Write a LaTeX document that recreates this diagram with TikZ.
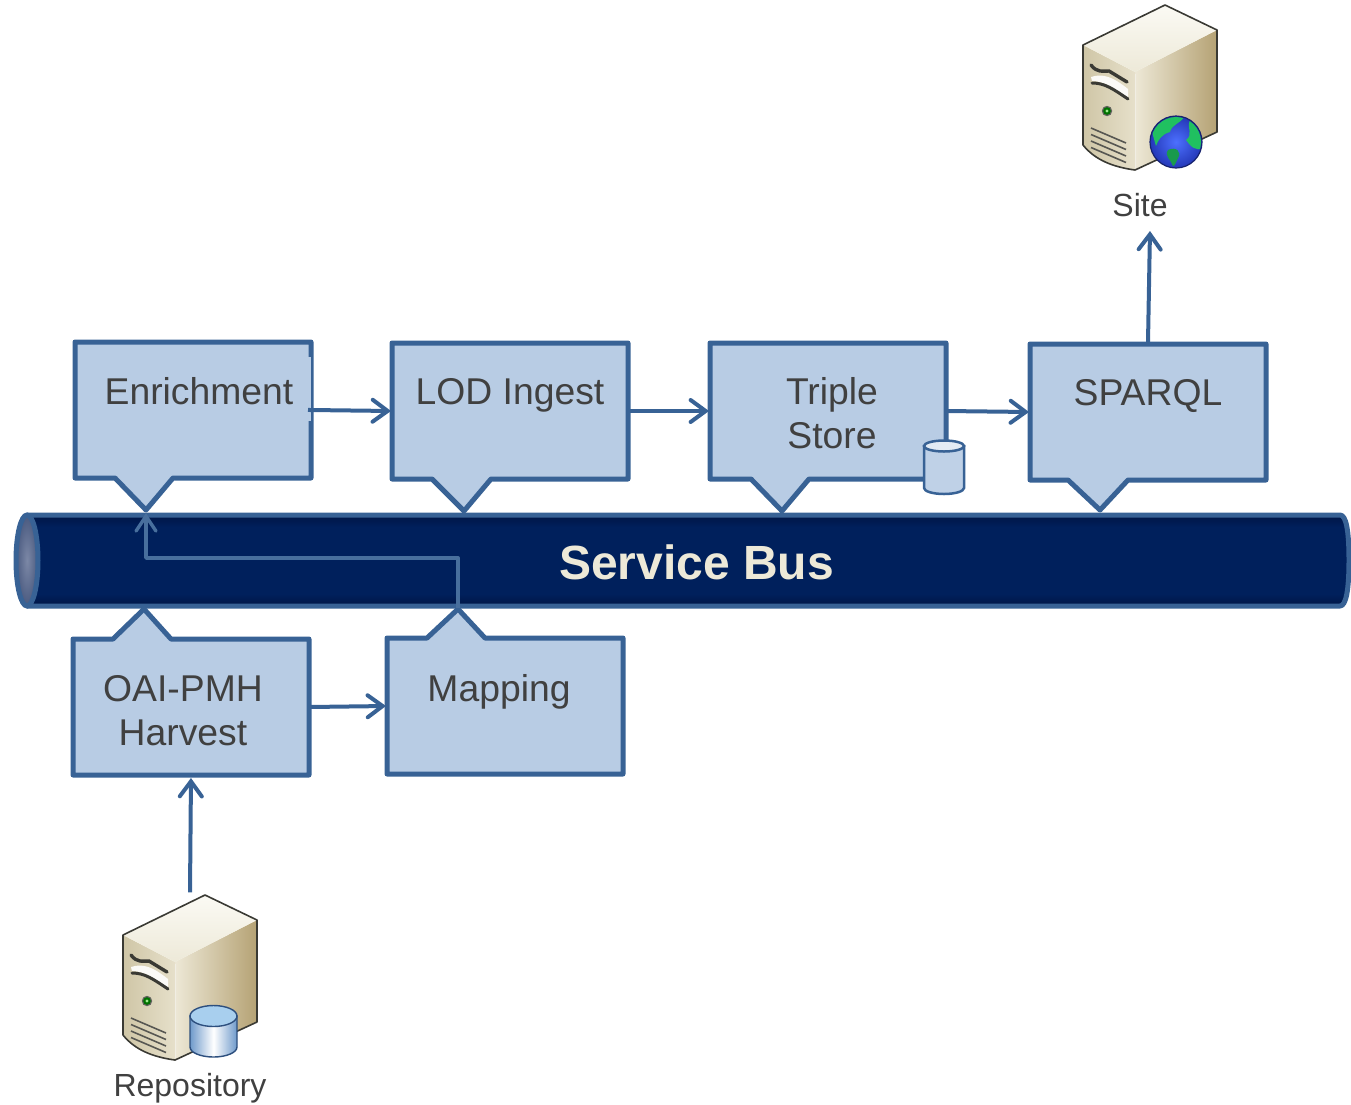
\documentclass[tikz,border=0pt]{standalone}
\usepackage{fontspec}
\setmainfont{Liberation Sans}
\usetikzlibrary{arrows.meta}
\definecolor{edgeblue}{HTML}{386295}
\definecolor{boxblue}{HTML}{B8CCE4}
\definecolor{busnavy}{HTML}{00205C}
\definecolor{busdark}{HTML}{001545}
\definecolor{textgrey}{HTML}{404040}
\definecolor{srvdark}{HTML}{3A3A34}
\definecolor{srvright0}{HTML}{EDE8D6}
\definecolor{srvright1}{HTML}{B5A274}
\definecolor{srvfront0}{HTML}{E6E0CA}
\definecolor{srvfront1}{HTML}{CFC6A6}
\definecolor{srvtop0}{HTML}{FBFAF4}
\definecolor{srvtop1}{HTML}{EDE9D8}
\definecolor{capinner}{HTML}{7C88A6}
\definecolor{capouter}{HTML}{4A5A80}
\definecolor{globeblue}{HTML}{4C70FF}
\definecolor{globedeep}{HTML}{2438B8}
\definecolor{globegreen}{HTML}{20C060}
\definecolor{cylside}{HTML}{6F9ACB}
\definecolor{cyltop}{HTML}{A8CFEE}
\definecolor{cyledge}{HTML}{2D4F7E}
\tikzset{
  x=1pt,y=-1pt,
  calloutshape/.style={draw=edgeblue,fill=boxblue,line width=5pt,line join=round},
  anchorbox/.style={inner sep=0pt,outer sep=0pt,minimum width=236pt,minimum height=136pt},
  boxlabel/.style={text=textgrey,font=\fontsize{37.3}{44}\selectfont,align=center,inner sep=0pt},
  smalllabel/.style={text=textgrey,font=\fontsize{32}{38}\selectfont,inner sep=0pt},
  flow/.style={draw=edgeblue,line width=4pt,shorten >=1pt,-{Straight Barb[length=15pt,width=22pt,line cap=round]}},
  thinflow/.style={draw=edgeblue!92!white,line width=3.4pt,line join=round,-{Straight Barb[length=15pt,width=20pt,line cap=round]}},
}
\newcommand{\calloutdown}[7]{%
  \draw[calloutshape] (#2,#3) -- (#2+236,#3) -- (#2+236,#3+136) -- (#6,#3+136) -- (#5,#7) -- (#4,#3+136) -- (#2,#3+136) -- cycle;
  \node[anchorbox] (#1) at (#2+118,#3+68) {};
}
\newcommand{\calloutup}[7]{%
  \draw[calloutshape] (#2,#3) -- (#4,#3) -- (#5,#7) -- (#6,#3) -- (#2+236,#3) -- (#2+236,#3+136) -- (#2,#3+136) -- cycle;
  \node[anchorbox] (#1) at (#2+118,#3+68) {};
}
\newcommand{\serverat}[2]{%
  \begin{scope}[shift={(#1,#2)}]
    \shade[left color=srvright0,right color=srvright1] (52,67) -- (134,25) -- (134,127) -- (52,165) -- cycle;
    \shade[left color=srvfront1,right color=srvfront0] (0,40) -- (52,67) -- (52,165) .. controls (30,162) and (12,155) .. (0,140) -- cycle;
    \shade[top color=srvtop0,bottom color=srvtop1] (82,0) -- (134,25) -- (52,67) -- (0,40) -- cycle;
    \draw[srvdark,line width=1.6pt,line join=round] (0,40) -- (82,0) -- (134,25) -- (134,127) -- (52,165) .. controls (30,162) and (12,155) .. (0,140) -- cycle;
    \draw[white!70!srvfront1,line width=1pt] (52,69) -- (52,163);
    \fill[white!85!srvfront0] (8,72) .. controls (20,68) and (30,72) .. (45,84) -- (45,93) .. controls (30,82) and (20,76) .. (9,76) -- cycle;
    \draw[srvdark,line width=3.4pt,line cap=round] (8,60) .. controls (14,68) and (20,66) .. (26,66) -- (44,77);
    \draw[srvdark,line width=3pt,line cap=round] (9,78) .. controls (22,78) and (30,84) .. (45,94);
    \fill[srvdark!80] (24,106) circle (5.2);
    \fill[green!45!black] (24,106) circle (3.8);
    \fill[srvfront0!70!green] (24,106) circle (1.6);
    \foreach \dy in {0,6.5,13,19.5}
      \draw[srvdark!85,line width=1.6pt] (8,123+\dy) -- (43,138+\dy);
  \end{scope}
}
\begin{document}
\begin{tikzpicture}
\useasboundingbox (0,0) rectangle (1351,1104);

% service bus
\node[inner sep=0pt,outer sep=0pt,minimum width=1300pt,minimum height=92pt] (bus) at (696,560.5) {};
\fill[busnavy] (27,515) -- (1340,515) .. controls (1346,515) and (1348,530) .. (1348,560) .. controls (1348,590) and (1346,606) .. (1340,606) -- (27,606) -- cycle;
\shade[top color=busdark,bottom color=busnavy] (27,515) rectangle (1343,527);
\shade[top color=busnavy,bottom color=busdark] (27,594) rectangle (1343,606);
\draw[edgeblue,line width=5pt,line join=round] (27,515) -- (1340,515) .. controls (1346,515) and (1349,530) .. (1349,560) .. controls (1349,590) and (1346,606) .. (1340,606) -- (27,606);
\shade[inner color=capinner,outer color=capouter,draw=edgeblue,line width=5pt] (27,560.5) ellipse (11 and 45.5);

% callouts above the bus
\calloutdown{enrich}{75}{342}{115}{146}{173}{510}
\fill[boxblue] (307.5,357) rectangle (310.5,421);
\calloutdown{lod}{392}{343}{432}{464}{491}{511}
\calloutdown{triple}{710}{343}{751}{782}{809}{511}
\calloutdown{sparql}{1030}{344}{1068}{1100}{1128}{510}
% callouts below the bus
\calloutup{oai}{73}{639}{113}{144}{171}{609}
\calloutup{mapping}{387}{638}{427}{458}{485}{609}

% small store cylinder
\node[inner sep=0pt,minimum width=40pt,minimum height=54pt] (store) at (944,467) {};
\filldraw[draw=edgeblue,fill=boxblue!90!white,line width=2.5pt] (924,446) -- (924,488) arc[start angle=180,end angle=0,x radius=20,y radius=6] -- (964,446) -- cycle;
\filldraw[draw=edgeblue,fill=boxblue!40!white,line width=2.5pt] (944,446) ellipse (20 and 5.5);

% servers
\serverat{1083}{5}
\serverat{123}{895}
\node[inner sep=0pt,minimum width=134pt,minimum height=165pt] (reposerver) at (190,977) {};

% globe
\shade[inner color=globeblue,outer color=globedeep] (1176,142) circle (26);
\begin{scope}
  \clip (1176,142) circle (25);
  \fill[globegreen] (1152,132) .. controls (1156,120) and (1170,114) .. (1184,117) .. controls (1180,124) and (1172,124) .. (1170,132) .. controls (1162,134) and (1158,140) .. (1156,146) -- cycle;
  \fill[globegreen] (1190,120) .. controls (1198,124) and (1204,134) .. (1203,148) .. controls (1196,152) and (1190,146) .. (1186,140) .. controls (1194,134) and (1186,128) .. (1190,120) -- cycle;
  \fill[globegreen!80!black] (1168,150) .. controls (1176,146) and (1182,152) .. (1178,158) .. controls (1176,162) and (1175,166) .. (1173,166) .. controls (1171,160) and (1164,156) .. (1168,150) -- cycle;
\end{scope}
\draw[globedeep!60!black,line width=1.2pt] (1176,142) circle (26);

% repository cylinder
\shade[left color=cylside,right color=cylside,middle color=white,draw=cyledge,line width=1.4pt]
  (190,1016) -- (190,1047) arc[start angle=180,end angle=0,x radius=23.5,y radius=10] -- (237,1016) -- cycle;
\filldraw[draw=cyledge,fill=cyltop,line width=1.4pt] (213.5,1016) ellipse (23.5 and 10.5);

% labels
\node[boxlabel,anchor=base] (tenrich) at (199,404) {Enrichment};
\node[boxlabel,anchor=base] (tlod) at (510,404) {LOD Ingest};
\node[boxlabel] (ttriple) at (832,413.5) {Triple\\Store};
\node[boxlabel,anchor=base] (tsparql) at (1148,405) {SPARQL};
\node[boxlabel] (toai) at (183,710.5) {OAI-PMH\\Harvest};
\node[boxlabel,anchor=base] (tmapping) at (499,701) {Mapping};
\node[smalllabel,anchor=base] (site) at (1140,216) {Site};
\node[smalllabel,anchor=base] (repo) at (190,1096) {Repository};
\node[text=srvtop1,font=\bfseries\fontsize{48}{56}\selectfont,inner sep=0pt] (tbus) at (696.5,562) {Service Bus};

% connectors
\coordinate (sitein) at (1150,230);
\draw[flow,shorten <=-3pt] (enrich.east) -- (lod.west);
\draw[flow] (lod.east) -- (triple.west);
\draw[flow] (triple.east) -- (sparql.west);
\draw[flow] (sparql.north) ++(0,-2) -- (sitein);
\draw[flow] (oai.east) -- (mapping.west);
\draw[flow,shorten >=3pt] (reposerver.north) ++(0,-2) -- (oai.south);
\coordinate (mapbase) at (458,608);
\coordinate (enrichtip) at (146,513);
\draw[thinflow] (mapbase) -- (458,558) -- (146,558) -- (enrichtip);
\end{tikzpicture}
\end{document}
